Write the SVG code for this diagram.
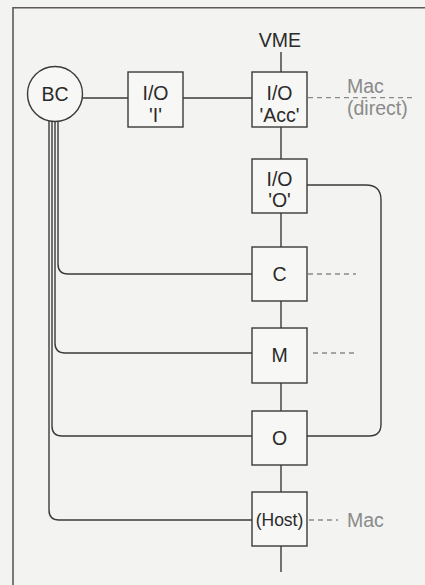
<svg xmlns="http://www.w3.org/2000/svg" width="425" height="585" viewBox="0 0 425 585">
<style>
.ln{fill:none;stroke:#3a3a3a;stroke-width:1.4}
.box{fill:#f7f7f5;stroke:#3a3a3a;stroke-width:1.4}
.dash{fill:none;stroke:#8a8a8a;stroke-width:1.3;stroke-dasharray:5,4}
.t{font-family:"Liberation Sans",Arial,sans-serif;font-size:19.5px;fill:#2a2a2a;text-anchor:middle}
.g{font-family:"Liberation Sans",Arial,sans-serif;font-size:19.5px;fill:#8a8a8a}
</style>
<rect x="0" y="0" width="425" height="585" fill="#f3f3f1"/>
<path d="M13,585 V7.7 H425" fill="none" stroke="#5e5955" stroke-width="1.6"/>
<g id="connectors">
<path class="ln" d="M82,98 H128"/>
<path class="ln" d="M183,98 H252"/>
<path class="ln" d="M281,52 V72"/>
<path class="ln" d="M281,127 V159"/>
<path class="ln" d="M281,213 V247"/>
<path class="ln" d="M281,301 V328"/>
<path class="ln" d="M281,383 V411"/>
<path class="ln" d="M281,465 V492"/>
<path class="ln" d="M281,546 V572"/>
<path class="ln" d="M58,119 V264 Q58,274 68,274 H252"/>
<path class="ln" d="M55,120 V343 Q55,353 65,353 H252"/>
<path class="ln" d="M52,120 V426 Q52,436 62,436 H252"/>
<path class="ln" d="M49,119 V510 Q49,520 59,520 H252"/>
<path class="ln" d="M307,185 H366 Q381,185 381,200 V424 Q381,436 369,436 H307"/>
<path class="dash" d="M308,97.7 H412"/>
<path class="dash" d="M308,274 H356"/>
<path class="dash" d="M313,353 H354"/>
<path class="dash" d="M309,520 H338"/>
</g>
<g id="VME"><text class="t" x="280" y="47">VME</text></g>
<g id="BC"><circle cx="55" cy="94" r="27.5" fill="#f7f7f5" stroke="#3a3a3a" stroke-width="1.4"/><text class="t" x="55" y="101">BC</text></g>
<g id="IO_I"><rect class="box" x="128" y="72" width="55" height="55"/><text class="t" x="155.5" y="100">I/O</text><text class="t" x="155.5" y="121.5">'I'</text></g>
<g id="IO_Acc"><rect class="box" x="252" y="72" width="55" height="55"/><text class="t" x="279.5" y="100">I/O</text><text class="t" x="279.5" y="121.5">'Acc'</text></g>
<g id="Mac_direct"><text class="g" x="347" y="93">Mac</text><text class="g" x="347" y="115">(direct)</text></g>
<g id="IO_O"><rect class="box" x="252" y="159" width="55" height="54"/><text class="t" x="279.5" y="186">I/O</text><text class="t" x="279.5" y="207">'O'</text></g>
<g id="C"><rect class="box" x="252" y="247" width="55" height="54"/><text class="t" x="279.5" y="281">C</text></g>
<g id="M"><rect class="box" x="252" y="328" width="55" height="55"/><text class="t" x="279.5" y="362">M</text></g>
<g id="O"><rect class="box" x="252" y="411" width="55" height="54"/><text class="t" x="279.5" y="445">O</text></g>
<g id="Host"><rect class="box" x="252" y="492" width="55" height="54"/><text class="t" x="279.5" y="526" style="font-size:17.5px">(Host)</text></g>
<g id="Mac"><text class="g" x="347" y="527">Mac</text></g>
</svg>
